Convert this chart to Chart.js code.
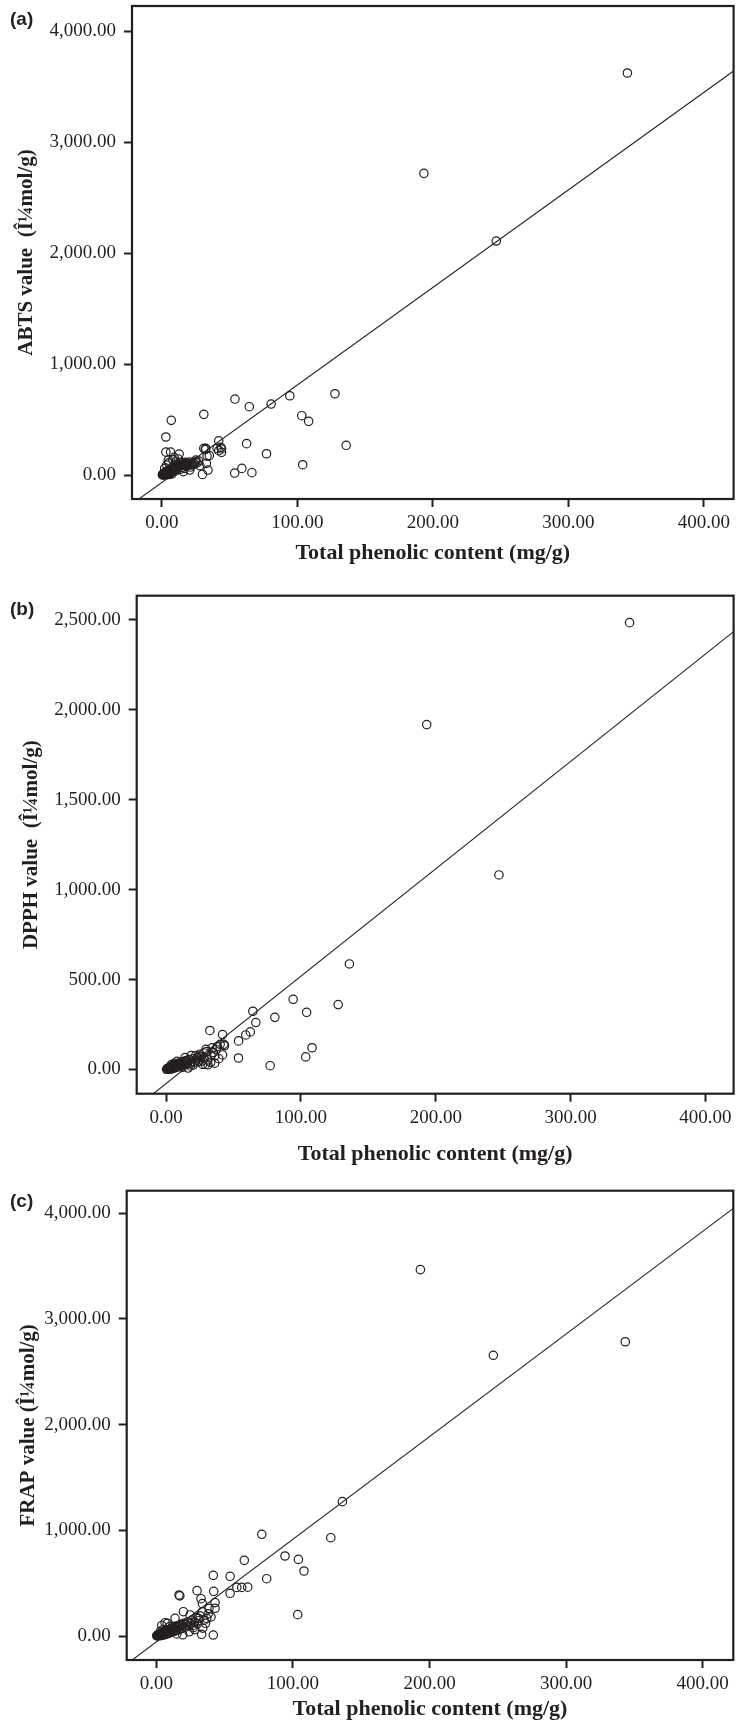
<!DOCTYPE html>
<html>
<head>
<meta charset="utf-8">
<script src="https://cdn.jsdelivr.net/npm/chart.js@4.4.1/dist/chart.umd.min.js"></script>
<style>
  body { margin: 0; background: #fff; }
  canvas { position: absolute; left: 0; }
</style>
</head>
<body>
<canvas id="chartA" width="739" height="580" style="top:0px"></canvas>
<canvas id="chartB" width="739" height="600" style="top:580px"></canvas>
<canvas id="chartC" width="739" height="546" style="top:1180px"></canvas>
<script>
// tick labels
const xTicks = [0, 100, 200, 300, 400];
const yTicksA = [0, 1000, 2000, 3000, 4000];
const yTicksB = [0, 500, 1000, 1500, 2000, 2500];
const yTicksC = [0, 1000, 2000, 3000, 4000];

// (a) total phenolic content vs ABTS  [x, y]
const pointsA = [
  [343.6, 3625], [193.4, 2720], [246.8, 2110],
  [53.9, 685], [64.5, 616], [80.6, 640], [94.4, 715], [127.7, 733], [103.2, 535], [108.3, 484],
  [136, 268], [62.5, 283], [77.2, 192], [103.9, 93], [53.7, 18], [59, 60], [66.4, 21],
  [30.9, 547], [6.9, 493], [2.9, 343], [2.9, 207], [6.4, 207], [12.7, 189], [41.9, 309],
  [30.9, 240], [32.4, 240], [40.7, 240], [44, 235], [42, 220], [43.5, 250], [44, 205],
  [29.9, 6], [34, 45], [33.3, 171], [35, 175], [32, 230], [25, 135], [32.8, 105],
  [15.7, 30], [20.6, 45], [4.7, 135]
];
const clusterA = [
  [0.3, 2], [0.6, 8], [0.8, 1], [1, 4], [1.2, 12], [1.5, 6], [1.8, 18], [2, 2], [2.2, 10], [2.5, 25],
  [2.8, 5], [3, 15], [3.2, 32], [3.5, 8], [3.8, 20], [4, 3], [4.2, 38], [4.5, 12], [4.8, 26], [5, 45],
  [5.3, 16], [5.6, 6], [6, 30], [6.3, 52], [6.6, 20], [7, 40], [7.4, 10], [7.8, 58], [8, 28], [8.5, 48],
  [9, 65], [9.4, 36], [10, 55], [10.5, 75], [11, 44], [11.5, 88], [12, 62], [12.5, 100], [13, 78], [13.5, 52],
  [14, 95], [14.5, 112], [15, 70], [15.5, 88], [16, 102], [16.5, 60], [17, 92], [17.5, 115], [18, 80], [18.5, 98],
  [19, 108], [20, 88], [20.5, 118], [21, 72], [22, 102], [22.5, 92], [23, 112], [24, 98], [25, 120], [26, 110],
  [27, 128], [28, 85], [2, 60], [3.5, 90], [5, 110], [8, 140], [10, 118], [12, 145], [9, 160], [11, 100]
];
const fitA = [[-22, -260], [422, 3643]];

// (b) total phenolic content vs DPPH
const pointsB = [
  [343.8, 2485], [193.3, 1918], [246.9, 1082],
  [135.9, 587], [94.2, 390], [127.6, 361], [104.2, 318], [80.6, 290], [64.3, 324], [66.5, 261],
  [62.4, 209], [59, 192], [53.7, 159], [53.6, 64], [77.1, 21], [103.5, 70], [108.2, 121],
  [32.4, 217], [41.8, 194], [42.8, 140], [43.2, 132], [41.8, 81], [29.5, 112], [31, 54], [31, 26],
  [36, 76], [27, 29], [24.5, 75], [18.5, 77], [14, 66], [16.2, 8], [29, 28], [33.2, 80]
];
const clusterB = [
  [0.3, 1], [0.6, 4], [1, 2], [1.3, 7], [1.6, 3], [2, 10], [2.3, 5], [2.6, 13], [3, 2], [3.3, 8],
  [3.6, 16], [4, 4], [4.3, 11], [4.6, 20], [5, 6], [5.4, 14], [5.8, 24], [6.2, 9], [6.6, 18], [7, 28],
  [7.4, 12], [7.8, 22], [8.2, 32], [8.6, 15], [9, 26], [9.5, 36], [10, 18], [10.5, 30], [11, 40], [11.5, 22],
  [12, 34], [13, 45], [13.5, 26], [14, 38], [15, 50], [15.5, 30], [16, 42], [17, 55], [17.5, 34], [18, 20],
  [19, 46], [20, 60], [21, 38], [22, 52], [23, 65], [24, 44], [25, 58], [26, 70], [27, 48], [28, 62],
  [8, 45], [6, 35], [4, 28], [12, 12], [20, 25], [25, 85], [22, 78], [28, 92], [30, 100], [34, 120],
  [37, 110], [40, 140], [38, 128], [35, 95], [39, 60], [33, 40], [36, 35]
];
const fitB = [[-22, -209], [421, 2435]];

// (c) total phenolic content vs FRAP
const pointsC = [
  [193.3, 3466], [246.7, 2656], [343.3, 2784],
  [136.2, 1271], [77.2, 962], [127.7, 930], [94.2, 757], [104, 725], [108.1, 615], [64.4, 716],
  [80.8, 542], [54, 565], [54, 404], [58.9, 460], [62.5, 460], [66.9, 462], [103.5, 202],
  [41.7, 574], [42, 423], [29.8, 429], [16.6, 388], [17.2, 380], [32.7, 353], [33.7, 306],
  [43, 316], [43, 262], [38.5, 262], [33.7, 230], [41.7, 9], [33.2, 16], [19.3, 12], [34, 75],
  [27.1, 79], [19.8, 230], [24.7, 199], [13.7, 167], [30.8, 167], [36.9, 167], [6.4, 126]
];
const clusterC = [
  [0.3, 2], [0.6, 6], [1, 1], [1.3, 10], [1.6, 4], [2, 14], [2.3, 7], [2.6, 20], [3, 3], [3.3, 12],
  [3.6, 26], [4, 6], [4.3, 18], [4.6, 32], [5, 9], [5.4, 24], [5.8, 38], [6.2, 14], [6.6, 30], [7, 46],
  [7.4, 18], [7.8, 36], [8.2, 54], [8.6, 24], [9, 44], [9.5, 62], [10, 30], [10.5, 52], [11, 72], [11.5, 38],
  [12, 60], [12.5, 82], [13, 44], [13.5, 68], [14, 92], [14.5, 52], [15, 78], [16, 100], [16.5, 60], [17, 88],
  [18, 110], [18.5, 70], [19, 96], [20, 120], [21, 82], [22, 105], [23, 135], [24, 92], [25, 118], [26, 150],
  [27, 100], [28, 130], [29, 175], [30, 115], [31, 145], [32, 190], [35, 150], [38, 210], [40, 180], [36, 120],
  [28, 60], [24, 40], [15, 20], [10, 90], [8, 120], [5, 60], [3, 45], [4, 100]
];
const fitC = [[-22, -269], [422.4, 4046]];

const ink = '#231f20';
const serif = '"Liberation Serif", "Times New Roman", serif';
const fmt = v => v.toLocaleString('en-US', { minimumFractionDigits: 2, maximumFractionDigits: 2 });
const toXY = arr => arr.map(p => ({ x: p[0], y: p[1] }));

// frame round the plot area + panel letter
const framePlugin = {
  id: 'frame',
  afterDatasetsDraw(chart, args, opts) {
    const { ctx, chartArea: a } = chart;
    ctx.save();
    ctx.strokeStyle = ink;
    ctx.lineWidth = 2.2;
    ctx.strokeRect(a.left, a.top, a.right - a.left, a.bottom - a.top);
    ctx.fillStyle = ink;
    ctx.font = 'bold 19px "Liberation Sans", Arial, sans-serif';
    ctx.textBaseline = 'middle';
    ctx.textAlign = 'left';
    ctx.fillText(opts.text, 10, opts.y);
    ctx.restore();
  }
};

function makeChart(id, cfg) {
  const grid = { drawOnChartArea: false, drawTicks: true, tickLength: 8, tickWidth: 2, color: ink, tickColor: ink };
  new Chart(document.getElementById(id), {
    type: 'scatter',
    data: {
      datasets: [
        {
          data: toXY(cfg.points.concat(cfg.cluster)),
          pointRadius: 4.2,
          pointBorderWidth: 1.2,
          pointBackgroundColor: 'rgba(0,0,0,0)',
          pointBorderColor: ink
        },
        {
          data: toXY(cfg.fit),
          showLine: true,
          pointRadius: 0,
          borderWidth: 1.1,
          borderColor: ink
        }
      ]
    },
    options: {
      responsive: false,
      animation: false,
      layout: { padding: { top: cfg.padTop, right: cfg.padRight, left: 0, bottom: 0 } },
      plugins: {
        legend: { display: false },
        tooltip: { enabled: false },
        frame: { text: cfg.letter, y: cfg.letterY }
      },
      scales: {
        x: {
          type: 'linear',
          min: cfg.xMin,
          max: cfg.xMax,
          afterBuildTicks: s => { s.ticks = xTicks.map(v => ({ value: v })); },
          afterFit: s => { s.height = cfg.xAxisH; s.paddingLeft = 0; s.paddingRight = 0; },
          grid: grid,
          border: { display: false },
          ticks: { padding: 5, autoSkip: false, maxRotation: 0, color: ink, font: { family: serif, size: 19 }, callback: fmt },
          title: {
            display: true,
            text: 'Total phenolic content (mg/g)',
            color: ink,
            font: { family: serif, size: 22, weight: 'bold' },
            padding: { top: 0, bottom: cfg.xTitlePad }
          }
        },
        y: {
          type: 'linear',
          min: cfg.yMin,
          max: cfg.yMax,
          afterBuildTicks: s => { s.ticks = cfg.yTicks.map(v => ({ value: v })); },
          afterFit: s => { s.width = cfg.yAxisW; s.paddingTop = 0; s.paddingBottom = 0; },
          grid: grid,
          border: { display: false },
          ticks: { padding: 8, autoSkip: false, color: ink, font: { family: serif, size: 19 }, callback: fmt },
          title: {
            display: true,
            text: cfg.yTitle,
            color: ink,
            font: { family: serif, size: 21, weight: 'bold' },
            padding: { top: cfg.yTitlePad, bottom: 0 }
          }
        }
      }
    },
    plugins: [framePlugin]
  });
}

makeChart('chartA', {
  points: pointsA, cluster: clusterA, fit: fitA, yTicks: yTicksA,
  yTitle: 'ABTS value  (\u00CE\u00BCmol/g)', letter: '(a)', letterY: 20,
  xMin: -22.1, xMax: 422, yMin: -216, yMax: 4229,
  padTop: 6, padRight: 3, yAxisW: 132, xAxisH: 81, xTitlePad: 13.5, yTitlePad: 14
});

makeChart('chartB', {
  points: pointsB, cluster: clusterB, fit: fitB, yTicks: yTicksB,
  yTitle: 'DPPH value  (\u00CE\u00BCmol/g)', letter: '(b)', letterY: 30,
  xMin: -21.9, xMax: 421, yMin: -134.6, yMax: 2635,
  padTop: 15.7, padRight: 0, yAxisW: 136.7, xAxisH: 86.3, xTitlePad: 12, yTitlePad: 19
});

makeChart('chartC', {
  points: pointsC, cluster: clusterC, fit: fitC, yTicks: yTicksC,
  yTitle: 'FRAP value (\u00CE\u00BCmol/g)', letter: '(c)', letterY: 22,
  xMin: -21.7, xMax: 422.4, yMin: -227, yMax: 4213,
  padTop: 10.7, padRight: 5.7, yAxisW: 126.7, xAxisH: 66, xTitlePad: 3, yTitlePad: 16
});
</script>
</body>
</html>
